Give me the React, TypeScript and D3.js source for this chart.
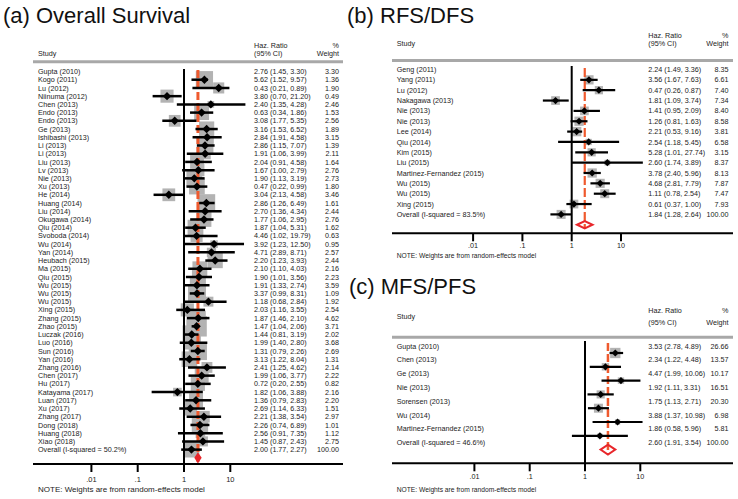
import React from "react";
import * as d3 from "d3";

// ---------- (a) Overall Survival ----------
const osStudies = [
  "Gupta (2010)", "Kogo (2011)", "Lu (2012)", "Niinuma (2012)", "Chen (2013)", "Endo (2013)", "Endo (2013)",
  "Ge (2013)", "Ishibashi (2013)", "Li (2013)", "Li (2013)", "Liu (2013)", "Lv (2013)", "Nie (2013)", "Xu (2013)",
  "He (2014)", "Huang (2014)", "Liu (2014)", "Okugawa (2014)", "Qiu (2014)", "Svoboda (2014)", "Wu (2014)",
  "Yan (2014)", "Heubach (2015)", "Ma (2015)", "Qiu (2015)", "Wu (2015)", "Wu (2015)", "Wu (2015)", "Xing (2015)",
  "Zhang (2015)", "Zhao (2015)", "Luczak (2016)", "Luo (2016)", "Sun (2016)", "Yan (2016)", "Zhang (2016)",
  "Chen (2017)", "Hu (2017)", "Katayama (2017)", "Luan (2017)", "Xu (2017)", "Zhang (2017)", "Dong (2018)",
  "Huang (2018)", "Xiao (2018)",
];
const osHR = [2.76, 5.62, 0.43, 3.80, 2.40, 0.63, 3.08, 3.16, 2.84, 2.86, 1.91, 2.04, 1.67, 1.90, 0.47, 3.04, 2.86, 2.70, 1.77, 1.87, 4.46, 3.92, 4.71, 2.20, 2.10, 1.90, 1.91, 3.37, 1.18, 2.03, 1.87, 1.47, 1.44, 1.99, 1.31, 3.13, 2.41, 1.99, 0.72, 1.82, 1.36, 2.69, 2.21, 2.26, 2.56, 1.45];
const osLower = [1.45, 1.52, 0.21, 0.70, 1.35, 0.34, 1.77, 1.53, 1.91, 1.15, 1.06, 0.91, 1.00, 1.13, 0.22, 2.13, 1.26, 1.36, 1.06, 1.04, 1.02, 1.23, 2.89, 1.23, 1.10, 1.01, 1.33, 0.99, 0.68, 1.16, 1.46, 1.04, 0.81, 1.40, 0.79, 1.22, 1.25, 1.06, 0.20, 1.06, 0.79, 1.14, 1.38, 0.74, 0.91, 0.87];
const osUpper = [3.30, 9.57, 0.89, 21.20, 4.28, 1.86, 5.35, 6.52, 4.58, 7.07, 3.99, 4.58, 2.79, 3.19, 0.99, 4.58, 6.49, 4.34, 2.95, 5.31, 19.79, 12.50, 8.71, 3.93, 4.03, 3.56, 2.74, 8.31, 2.84, 3.55, 2.10, 2.06, 3.19, 2.80, 2.26, 8.04, 4.62, 3.77, 2.55, 3.88, 2.83, 6.33, 3.54, 6.89, 7.35, 2.43];
const osWeight = [3.30, 1.36, 1.90, 0.49, 2.46, 1.53, 2.56, 1.89, 3.15, 1.39, 2.11, 1.64, 2.76, 2.73, 1.80, 3.46, 1.61, 2.44, 2.76, 1.62, 0.63, 0.95, 2.57, 2.44, 2.16, 2.23, 3.59, 1.09, 1.92, 2.54, 4.62, 3.71, 2.02, 3.68, 2.69, 1.31, 2.14, 2.22, 0.82, 2.16, 2.20, 1.51, 2.97, 1.01, 1.12, 2.75];
const osOverallLabel = "Overall (I-squared = 50.2%)";
const osOverall = [2.00, 1.77, 2.27];

// ---------- (b) RFS/DFS ----------
const rfsStudies = [
  "Geng (2011)", "Yang (2011)", "Lu (2012)", "Nakagawa (2013)", "Nie (2013)", "Nie (2013)", "Lee (2014)",
  "Qiu (2014)", "Kim (2015)", "Liu (2015)", "Martinez-Fernandez (2015)", "Wu (2015)", "Wu (2015)", "Xing (2015)",
];
const rfsHR = [2.24, 3.56, 0.47, 1.81, 1.41, 1.26, 2.21, 2.54, 5.28, 2.60, 3.78, 4.68, 1.11, 0.61];
const rfsLower = [1.49, 1.67, 0.26, 1.09, 0.95, 0.81, 0.53, 1.18, 1.01, 1.74, 2.40, 2.81, 0.78, 0.37];
const rfsUpper = [3.36, 7.63, 0.87, 3.74, 2.09, 1.63, 9.16, 5.45, 27.74, 3.89, 5.96, 7.79, 2.54, 1.00];
const rfsWeight = [8.35, 6.61, 7.40, 7.34, 8.40, 8.58, 3.81, 6.58, 3.15, 8.37, 8.13, 7.87, 7.47, 7.93];
const rfsOverallLabel = "Overall (I-squared = 83.5%)";
const rfsOverall = [1.84, 1.28, 2.64];

// ---------- (c) MFS/PFS ----------
const mfsStudies = [
  "Gupta (2010)", "Chen (2013)", "Ge (2013)", "Nie (2013)", "Sorensen (2013)", "Wu (2014)", "Martinez-Fernandez (2015)",
];
const mfsHR = [3.53, 2.34, 4.47, 1.92, 1.75, 3.88, 1.86];
const mfsLower = [2.78, 1.22, 1.99, 1.11, 1.13, 1.37, 0.58];
const mfsUpper = [4.89, 4.48, 10.06, 3.31, 2.71, 10.98, 5.96];
const mfsWeight = [26.66, 13.57, 10.17, 16.51, 20.30, 6.98, 5.81];
const mfsOverallLabel = "Overall (I-squared = 46.6%)";
const mfsOverall = [2.60, 1.91, 3.54];

const tickValues = [0.01, 0.1, 1, 10];
const tickLabels = [".01", ".1", "1", "10"];
const noteText = "NOTE: Weights are from random-effects model";

const FONT = "'Liberation Sans', Arial, Helvetica, sans-serif";

type Layout = {
  title: string; titleX: number; titleY: number;
  left: number; right: number; xOne: number; decade: number;
  labelX: number; valueX: number; weightX: number;
  head1: number; head2: number; studyY: number; lineY: number;
  row0: number; dy: number; shift: number;
  axisY: number; tickLabelY: number; noteY: number; noteSize: number; tickSize: number;
  nullTop: number; dashTop: number; boxK: number; mk: number; ciW: number; dashW: number; dash: string;
  diaH: number; diaFill: boolean; fs: number;
};

function Panel({ L, studies, hr, lo, hi, w, overallLabel, overall }: any) {
  const lay: Layout = L;
  const x = d3.scaleLog().domain([1, 10]).range([lay.xOne, lay.xOne + lay.decade]);
  const rowY = (i: number) => lay.row0 + i * lay.dy;
  const n = studies.length;
  const fmt = (v: number) => v.toFixed(2);
  const txt = (c: number) => c + lay.fs * 0.36;
  const diaY = rowY(n) + lay.shift;
  const dashColor = "#ef5a2e";
  const red = "#e8262b";
  return (
    <g fontFamily={FONT}>
      <text x={lay.titleX} y={lay.titleY} fontSize={22} fill="#111">{lay.title}</text>
      <text x={lay.labelX} y={txt(lay.studyY)} fontSize={lay.fs} fill="#222">Study</text>
      <text x={lay.valueX} y={txt(lay.head1)} fontSize={lay.fs} fill="#222">Haz. Ratio</text>
      <text x={lay.valueX} y={txt(lay.head2)} fontSize={lay.fs} fill="#222">(95% CI)</text>
      <text x={lay.weightX} y={txt(lay.head1)} fontSize={lay.fs} fill="#222" textAnchor="end">%</text>
      <text x={lay.weightX} y={txt(lay.head2)} fontSize={lay.fs} fill="#222" textAnchor="end">Weight</text>
      <line x1={lay.left} x2={lay.right} y1={lay.lineY} y2={lay.lineY} stroke="#a8a8a8" strokeWidth={3} />

      {studies.map((_: string, i: number) => {
        const s = lay.boxK * Math.sqrt(w[i]);
        const cy = rowY(i + 1 > n ? n : i) + lay.shift;
        return <rect key={"b" + i} x={x(hr[i]) - s / 2} y={cy - s / 2} width={s} height={s} fill="#b3b3b3" />;
      })}
      <line x1={x(1)} x2={x(1)} y1={lay.nullTop} y2={lay.axisY} stroke="#000" strokeWidth={2} />
      <line x1={x(overall[0])} x2={x(overall[0])} y1={lay.dashTop} y2={diaY + lay.diaH} stroke={dashColor} strokeWidth={lay.dashW} strokeDasharray={lay.dash} />
      {studies.map((_: string, i: number) => {
        const cy = rowY(i) + lay.shift;
        return <line key={"c" + i} x1={x(lo[i])} x2={x(hi[i])} y1={cy} y2={cy} stroke="#000" strokeWidth={lay.ciW} />;
      })}
      {studies.map((_: string, i: number) => {
        const cy = rowY(i) + lay.shift;
        const cx = x(hr[i]);
        const m = lay.mk;
        return <path key={"m" + i} d={`M${cx - m},${cy}L${cx},${cy - m}L${cx + m},${cy}L${cx},${cy + m}Z`} fill="#000" />;
      })}
      <path
        d={`M${x(overall[1])},${diaY}L${x(overall[0])},${diaY - lay.diaH}L${x(overall[2])},${diaY}L${x(overall[0])},${diaY + lay.diaH}Z`}
        fill={lay.diaFill ? red : "none"} stroke={red} strokeWidth={2} strokeLinejoin="miter"
      />

      {studies.map((s: string, i: number) => (
        <g key={"t" + i} fontSize={lay.fs} fill="#222">
          <text x={lay.labelX} y={txt(rowY(i))}>{s}</text>
          <text x={lay.valueX} y={txt(rowY(i))}>{`${fmt(hr[i])} (${fmt(lo[i])}, ${fmt(hi[i])})`}</text>
          <text x={lay.weightX} y={txt(rowY(i))} textAnchor="end">{fmt(w[i])}</text>
        </g>
      ))}
      <g fontSize={lay.fs} fill="#222">
        <text x={lay.labelX} y={txt(rowY(n))}>{overallLabel}</text>
        <text x={lay.valueX} y={txt(rowY(n))}>{`${fmt(overall[0])} (${fmt(overall[1])}, ${fmt(overall[2])})`}</text>
        <text x={lay.weightX} y={txt(rowY(n))} textAnchor="end">100.00</text>
      </g>

      <line x1={lay.left} x2={lay.right} y1={lay.axisY} y2={lay.axisY} stroke="#000" strokeWidth={2} />
      {tickValues.map((t, i) => (
        <g key={"k" + i}>
          <line x1={x(t)} x2={x(t)} y1={lay.axisY} y2={lay.axisY + 8} stroke="#000" strokeWidth={2} />
          <text x={x(t)} y={txt(lay.tickLabelY)} fontSize={lay.tickSize} textAnchor="middle" fill="#222">{tickLabels[i]}</text>
        </g>
      ))}
      <text x={lay.labelX} y={lay.noteY + lay.noteSize * 0.36} fontSize={lay.noteSize} fill="#222">{noteText}</text>
    </g>
  );
}

const layoutA: Layout = {
  title: "(a) Overall Survival", titleX: 3, titleY: 23,
  left: 33, right: 343, xOne: 184, decade: 46.3,
  labelX: 38, valueX: 254, weightX: 339,
  head1: 45.7, head2: 53.3, studyY: 53.3, lineY: 61.7,
  row0: 71.5, dy: 8.22, shift: 8.22,
  axisY: 464, tickLabelY: 479.5, noteY: 489.5, noteSize: 8, tickSize: 7.5,
  nullTop: 69, dashTop: 70, boxK: 9.5, mk: 4.2, ciW: 2.5, dashW: 3, dash: "8 3",
  diaH: 3.8, diaFill: true, fs: 7.2,
};
const layoutB: Layout = {
  title: "(b) RFS/DFS", titleX: 347, titleY: 23,
  left: 392, right: 733, xOne: 571.7, decade: 49.3,
  labelX: 396.7, valueX: 648.3, weightX: 728.5,
  head1: 35, head2: 43, studyY: 43.5, lineY: 60.5,
  row0: 69.5, dy: 10.35, shift: 10.35,
  axisY: 233.3, tickLabelY: 245.7, noteY: 255.5, noteSize: 6.7, tickSize: 7.2,
  nullTop: 66, dashTop: 68, boxK: 3.2, mk: 3.6, ciW: 2.2, dashW: 2.2, dash: "9 3",
  diaH: 3.6, diaFill: false, fs: 7.2,
};
const layoutC: Layout = {
  title: "(c) MFS/PFS", titleX: 349, titleY: 294,
  left: 392, right: 733, xOne: 585, decade: 55.3,
  labelX: 396.7, valueX: 648.3, weightX: 728.5,
  head1: 310.7, head2: 322.7, studyY: 316.7, lineY: 337.3,
  row0: 346, dy: 13.8, shift: 7,
  axisY: 463.3, tickLabelY: 476.5, noteY: 489.5, noteSize: 6.7, tickSize: 7.2,
  nullTop: 341, dashTop: 343, boxK: 2.0, mk: 3.6, ciW: 2.2, dashW: 2.5, dash: "8 3",
  diaH: 5, diaFill: false, fs: 7.2,
};

export default function App() {
  return (
    <svg width={738} height={499} style={{ position: "absolute", left: 0, top: 0, background: "#fff" }}>
      <rect width={738} height={499} fill="#fff" />
      <Panel L={layoutA} studies={osStudies} hr={osHR} lo={osLower} hi={osUpper} w={osWeight} overallLabel={osOverallLabel} overall={osOverall} />
      <Panel L={layoutB} studies={rfsStudies} hr={rfsHR} lo={rfsLower} hi={rfsUpper} w={rfsWeight} overallLabel={rfsOverallLabel} overall={rfsOverall} />
      <Panel L={layoutC} studies={mfsStudies} hr={mfsHR} lo={mfsLower} hi={mfsUpper} w={mfsWeight} overallLabel={mfsOverallLabel} overall={mfsOverall} />
    </svg>
  );
}
